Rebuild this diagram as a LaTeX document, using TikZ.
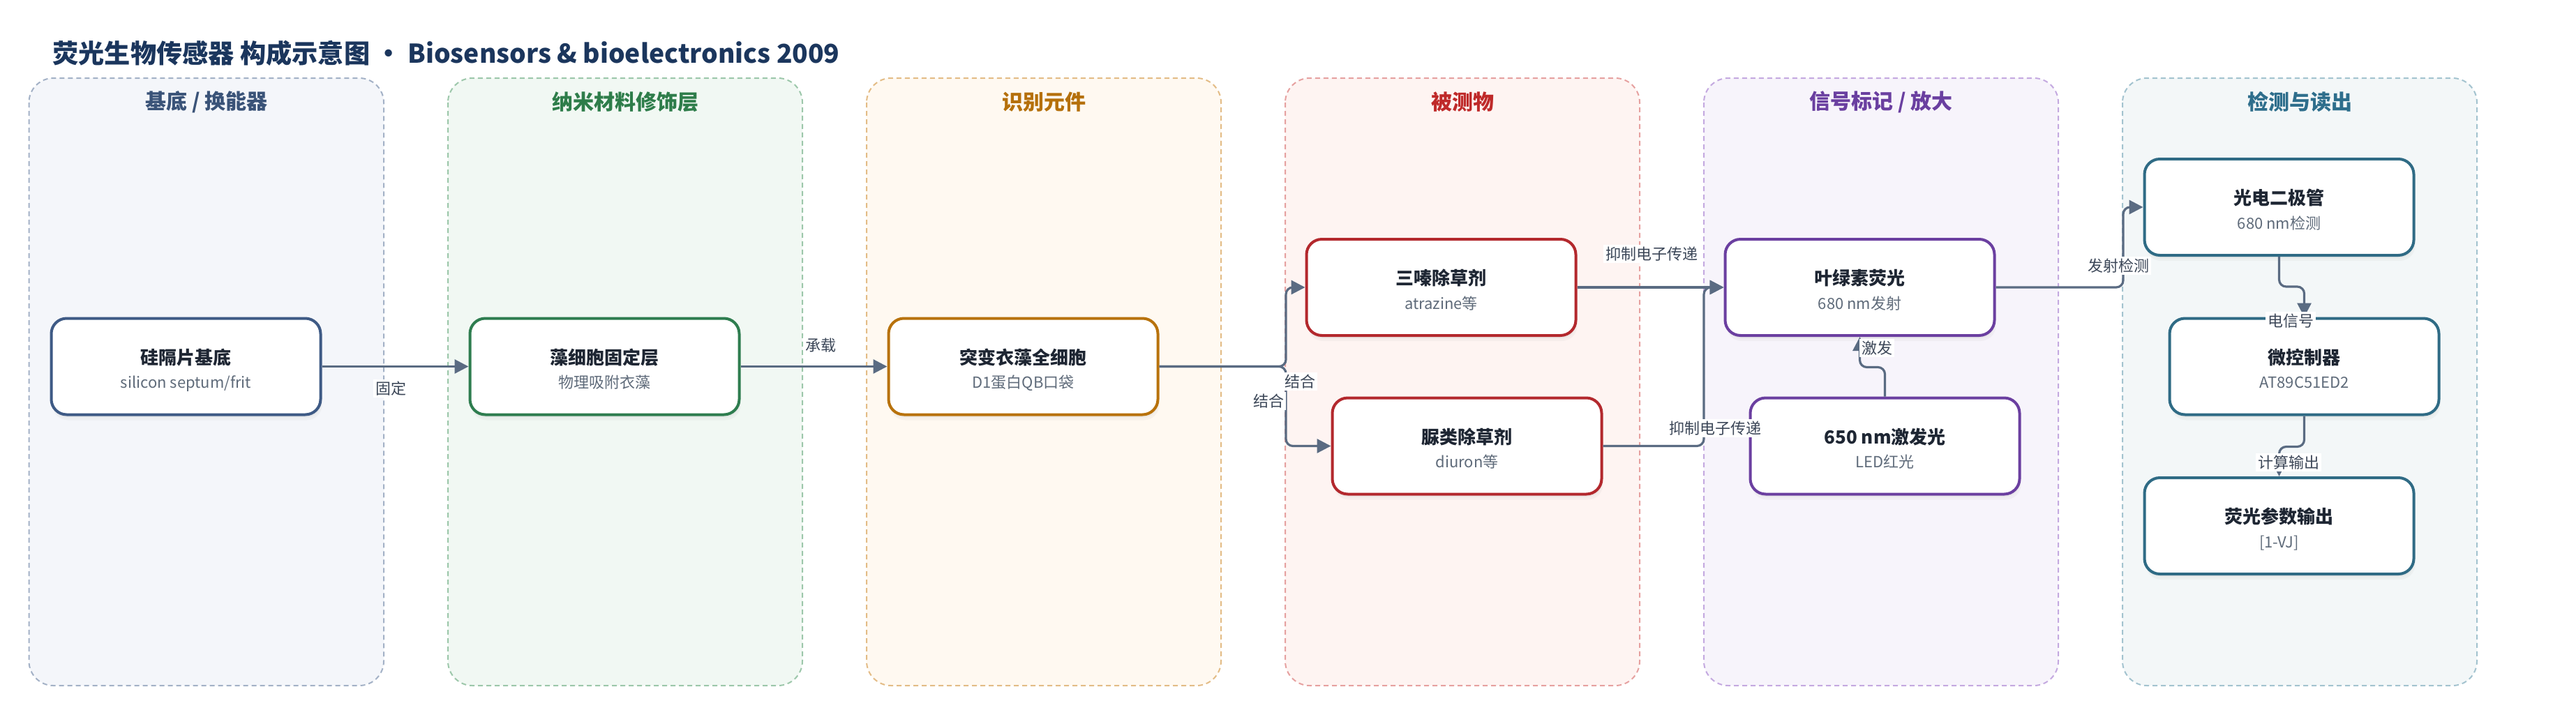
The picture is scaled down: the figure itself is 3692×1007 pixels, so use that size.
\documentclass[tikz,border=0pt]{standalone}
\usepackage{fontspec}
\setmainfont{Noto Sans CJK SC}
\usetikzlibrary{arrows.meta,shadows}

% lane colours: f = fill, d = dashed border, t = title, b = card border
\definecolor{l1f}{HTML}{F4F6FA}\definecolor{l1d}{HTML}{A3B1C6}\definecolor{l1t}{HTML}{3A5378}\definecolor{l1b}{HTML}{3E5A85}
\definecolor{l2f}{HTML}{F1F8F3}\definecolor{l2d}{HTML}{9CC7AA}\definecolor{l2t}{HTML}{2E7D4A}\definecolor{l2b}{HTML}{2E7D4F}
\definecolor{l3f}{HTML}{FFF9F1}\definecolor{l3d}{HTML}{E3BC86}\definecolor{l3t}{HTML}{B5700B}\definecolor{l3b}{HTML}{B8720C}
\definecolor{l4f}{HTML}{FEF4F2}\definecolor{l4d}{HTML}{E6A1A0}\definecolor{l4t}{HTML}{BF2A2A}\definecolor{l4b}{HTML}{B3282D}
\definecolor{l5f}{HTML}{F7F4FB}\definecolor{l5d}{HTML}{C4A9E0}\definecolor{l5t}{HTML}{6A3FA0}\definecolor{l5b}{HTML}{6B3FA0}
\definecolor{l6f}{HTML}{F3F7F8}\definecolor{l6d}{HTML}{A3C3CF}\definecolor{l6t}{HTML}{2E6E8C}\definecolor{l6b}{HTML}{2F6B85}
\definecolor{navy}{HTML}{1B365D}
\definecolor{ink}{HTML}{1E2633}
\definecolor{subgray}{HTML}{5F6B7A}
\definecolor{edge}{HTML}{5A6B82}
\definecolor{lbltext}{HTML}{3C4758}

\tikzset{
  lane/.style={rounded corners=17.5pt, line width=1pt, dash pattern=on 3.5pt off 2.5pt, draw=#1d, fill=#1f},
  lanettl/.style={font=\fontsize{15}{18}\selectfont\bfseries, text=#1t, inner sep=0pt},
  card/.style={draw=#1b, fill=white, line width=2pt, rounded corners=11pt, minimum width=193pt, minimum height=69pt, inner sep=0pt,
    drop shadow={opacity=0.06, shadow xshift=1pt, shadow yshift=-4pt},
    drop shadow={opacity=0.08, shadow xshift=0.5pt, shadow yshift=-2pt}},
  ttl/.style={anchor=base, inner sep=0pt, font=\fontsize{13}{15}\selectfont\bfseries, text=ink},
  subtxt/.style={anchor=base, inner sep=0pt, font=\fontsize{11}{13}\selectfont, text=subgray},
  link/.style={draw=edge, line width=1.6pt, rounded corners=5pt, -{Triangle[length=10pt,width=10pt]}},
  lbl/.style={fill=white, inner sep=1.5pt, font=\fontsize{11}{13}\selectfont, text=lbltext}
}

\begin{document}
\begin{tikzpicture}[x=0.5pt,y=-0.5pt]
\useasboundingbox (0,0) rectangle (3692,1007);
% lanes
\draw[lane=l1] (41.5,112) rectangle (550,983);
\draw[lane=l2] (642,112) rectangle (1150,983);
\draw[lane=l3] (1242,112) rectangle (1750,983);
\draw[lane=l4] (1842,112) rectangle (2350,983);
\draw[lane=l5] (2442,112) rectangle (2950,983);
\draw[lane=l6] (3042,112) rectangle (3550,983);
\node[lanettl=l1] (h1) at (296,146) {基底 / 换能器};
\node[lanettl=l2] (h2) at (896,146) {纳米材料修饰层};
\node[lanettl=l3] (h3) at (1496,146) {识别元件};
\node[lanettl=l4] (h4) at (2096,146) {被测物};
\node[lanettl=l5] (h5) at (2696,146) {信号标记 / 放大};
\node[lanettl=l6] (h6) at (3296,146) {检测与读出};
% title
\node[anchor=west, inner sep=0pt, font=\fontsize{18.6}{22}\selectfont\bfseries, text=navy] (title) at (75,76)
  {荧光生物传感器 构成示意图 ・ Biosensors \& bioelectronics 2009};
% cards
\node[card=l1] (n1) at (266.5,525.5) {};
\node[ttl] (n1a) at ([yshift=1.6pt]n1.center) {硅隔片基底};
\node[subtxt] (n1b) at ([yshift=-15.7pt]n1.center) {silicon septum/frit};
\node[card=l2] (n2) at (866.5,525.5) {};
\node[ttl] (n2a) at ([yshift=1.6pt]n2.center) {藻细胞固定层};
\node[subtxt] (n2b) at ([yshift=-15.7pt]n2.center) {物理吸附衣藻};
\node[card=l3] (n3) at (1466.5,525.5) {};
\node[ttl] (n3a) at ([yshift=1.6pt]n3.center) {突变衣藻全细胞};
\node[subtxt] (n3b) at ([yshift=-15.7pt]n3.center) {D1蛋白QB口袋};
\node[card=l4] (n4) at (2065.5,412) {};
\node[ttl] (n4a) at ([yshift=1.6pt]n4.center) {三嗪除草剂};
\node[subtxt] (n4b) at ([yshift=-15.7pt]n4.center) {atrazine等};
\node[card=l4] (n5) at (2102.5,639.5) {};
\node[ttl] (n5a) at ([yshift=1.6pt]n5.center) {脲类除草剂};
\node[subtxt] (n5b) at ([yshift=-15.7pt]n5.center) {diuron等};
\node[card=l5] (n6) at (2665.5,412) {};
\node[ttl] (n6a) at ([yshift=1.6pt]n6.center) {叶绿素荧光};
\node[subtxt] (n6b) at ([yshift=-15.7pt]n6.center) {680 nm发射};
\node[card=l5] (n7) at (2701.5,639.5) {};
\node[ttl] (n7a) at ([yshift=1.6pt]n7.center) {650 nm激发光};
\node[subtxt] (n7b) at ([yshift=-15.7pt]n7.center) {LED红光};
\node[card=l6] (n8) at (3266.5,297) {};
\node[ttl] (n8a) at ([yshift=1.6pt]n8.center) {光电二极管};
\node[subtxt] (n8b) at ([yshift=-15.7pt]n8.center) {680 nm检测};
\node[card=l6] (n9) at (3302.5,525.5) {};
\node[ttl] (n9a) at ([yshift=1.6pt]n9.center) {微控制器};
\node[subtxt] (n9b) at ([yshift=-15.7pt]n9.center) {AT89C51ED2};
\node[card=l6] (n10) at (3266.5,754) {};
\node[ttl] (n10a) at ([yshift=1.6pt]n10.center) {荧光参数输出};
\node[subtxt] (n10b) at ([yshift=-15.7pt]n10.center) {[1-VJ]};
% connectors
\coordinate (j1) at (1843,525.5);
\coordinate (j2) at (2442,639.5);
\coordinate (j3) at (3043,412);
\draw[link] (n1) -- (n2);
\draw[link] (n2) -- (n3);
\draw[link] (n3.east) -- (j1) |- (n4.west);
\draw[link] (n3.east) -- (j1) |- (n5.west);
\draw[link] (n4) -- (n6);
\draw[link] (n5.east) -- (j2) |- (n6.west);
\draw[link] (n7.north) -- ++(0,-42) -| (n6.south);
\draw[link] (n6.east) -- (j3) |- (n8.west);
\draw[link] (n8.south) -- ++(0,43) -| (n9.north);
\draw[link] (n9.south) -- ++(0,44) -| (n10.north);
% connector labels
\node[lbl] (e1) at (560,557) {固定};
\node[lbl] (e2) at (1176,495) {承载};
\node[lbl] (e3) at (1863,547) {结合};
\node[lbl] (e4) at (1818,575) {结合};
\node[lbl] (e5) at (2367,364) {抑制电子传递};
\node[lbl] (e6) at (2458,614) {抑制电子传递};
\node[lbl] (e7) at (2690,499) {激发};
\node[lbl] (e8) at (3036,381) {发射检测};
\node[lbl] (e9) at (3283,460) {电信号};
\node[lbl] (e10) at (3280,663) {计算输出};
\end{tikzpicture}
\end{document}
